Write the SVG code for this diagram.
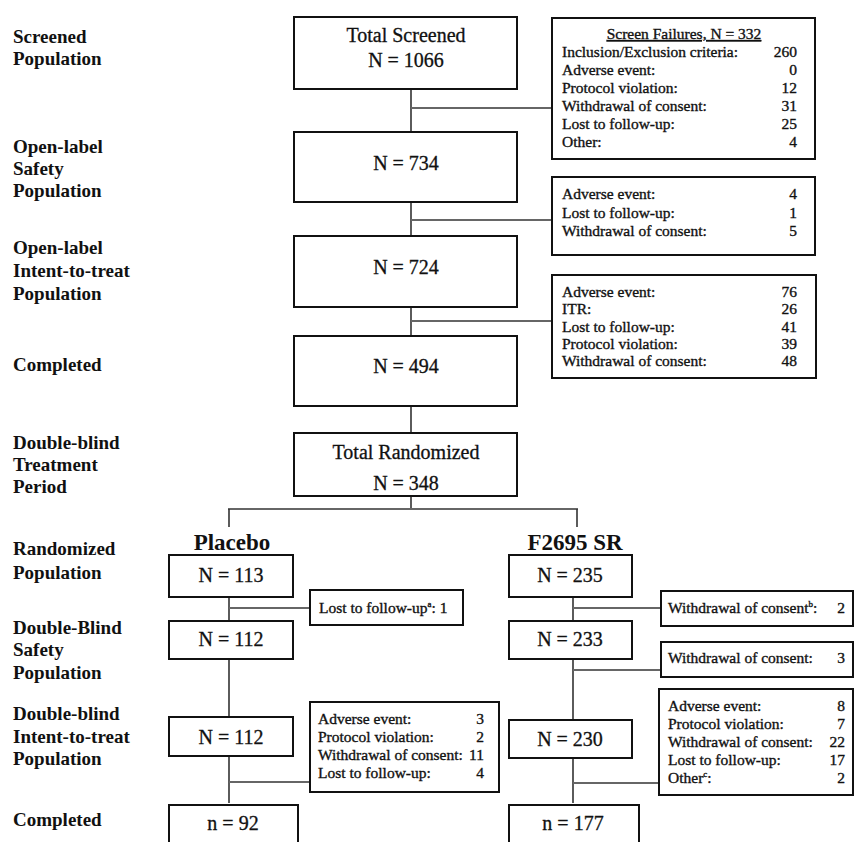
<svg xmlns="http://www.w3.org/2000/svg" width="854" height="842" viewBox="0 0 854 842">
<style>
.box{fill:#fff;stroke:#111;stroke-width:2}
.lbl{font-family:"Liberation Serif",serif;font-weight:bold;font-size:19px;fill:#111}
.mt{font-family:"Liberation Serif",serif;font-size:20px;fill:#111;stroke:#111;stroke-width:0.3;text-anchor:middle}
.st{font-family:"Liberation Serif",serif;font-size:15.5px;fill:#111;stroke:#111;stroke-width:0.35}
.num{text-anchor:end}
.arm{font-family:"Liberation Serif",serif;font-weight:bold;font-size:23px;fill:#111;text-anchor:middle}
.v{stroke:#333;stroke-width:1.6;fill:none}
.h{stroke:#666;stroke-width:2;fill:none}
.sup{font-size:9px}
</style>
<rect width="854" height="842" fill="#fff"/>

<g id="labels">
<text class="lbl" x="13" y="43">Screened</text>
<text class="lbl" x="13" y="65">Population</text>
<text class="lbl" x="13" y="153">Open-label</text>
<text class="lbl" x="13" y="175">Safety</text>
<text class="lbl" x="13" y="197">Population</text>
<text class="lbl" x="13" y="254">Open-label</text>
<text class="lbl" x="13" y="277">Intent-to-treat</text>
<text class="lbl" x="13" y="300">Population</text>
<text class="lbl" x="13" y="371">Completed</text>
<text class="lbl" x="13" y="449">Double-blind</text>
<text class="lbl" x="13" y="471">Treatment</text>
<text class="lbl" x="13" y="493">Period</text>
<text class="lbl" x="13" y="555">Randomized</text>
<text class="lbl" x="13" y="579">Population</text>
<text class="lbl" x="13" y="634">Double-Blind</text>
<text class="lbl" x="13" y="656">Safety</text>
<text class="lbl" x="13" y="679">Population</text>
<text class="lbl" x="13" y="720">Double-blind</text>
<text class="lbl" x="13" y="743">Intent-to-treat</text>
<text class="lbl" x="13" y="765">Population</text>
<text class="lbl" x="13" y="826">Completed</text>
</g>

<g id="connectors">
<line class="v" x1="411" y1="89" x2="411" y2="132"/>
<line class="v" x1="411" y1="202" x2="411" y2="236"/>
<line class="v" x1="411" y1="307" x2="411" y2="336"/>
<line class="v" x1="411" y1="406" x2="411" y2="433"/>
<line class="v" x1="411" y1="496" x2="411" y2="509"/>
<line class="h" x1="411" y1="108" x2="552" y2="108"/>
<line class="h" x1="411" y1="220" x2="552" y2="220"/>
<line class="h" x1="411" y1="321" x2="552" y2="321"/>
<line class="h" x1="228" y1="509" x2="578" y2="509"/>
<line class="v" x1="229" y1="509" x2="229" y2="527"/>
<line class="v" x1="577" y1="509" x2="577" y2="527"/>
<line class="v" x1="229" y1="597" x2="229" y2="621"/>
<line class="v" x1="229" y1="659" x2="229" y2="717"/>
<line class="v" x1="229" y1="756" x2="229" y2="803"/>
<line class="h" x1="229" y1="608" x2="310" y2="608"/>
<line class="h" x1="229" y1="782" x2="310" y2="782"/>
<line class="v" x1="573" y1="597" x2="573" y2="621"/>
<line class="v" x1="573" y1="659" x2="573" y2="720"/>
<line class="v" x1="573" y1="758" x2="573" y2="803"/>
<line class="h" x1="573" y1="608" x2="661" y2="608"/>
<line class="h" x1="573" y1="670" x2="661" y2="670"/>
<line class="h" x1="573" y1="783" x2="659" y2="783"/>
</g>

<g id="total-screened">
<rect class="box" x="294" y="17" width="223" height="72"/>
<text class="mt" x="406" y="42">Total Screened</text>
<text class="mt" x="406" y="67">N = 1066</text>
</g>
<g id="screen-failures">
<rect class="box" x="552" y="18" width="263" height="141"/>
<text class="st" x="684" y="39" text-anchor="middle" text-decoration="underline">Screen Failures, N = 332</text>
<text class="st" x="562" y="57">Inclusion/Exclusion criteria:</text>
<text class="st num" x="797" y="57">260</text>
<text class="st" x="562" y="75">Adverse event:</text>
<text class="st num" x="797" y="75">0</text>
<text class="st" x="562" y="93">Protocol violation:</text>
<text class="st num" x="797" y="93">12</text>
<text class="st" x="562" y="111">Withdrawal of consent:</text>
<text class="st num" x="797" y="111">31</text>
<text class="st" x="562" y="129">Lost to follow-up:</text>
<text class="st num" x="797" y="129">25</text>
<text class="st" x="562" y="147">Other:</text>
<text class="st num" x="797" y="147">4</text>
</g>
<g id="ol-safety">
<rect class="box" x="294" y="132" width="223" height="70"/>
<text class="mt" x="406" y="170">N = 734</text>
</g>
<g id="ol-safety-drop">
<rect class="box" x="552" y="177" width="263" height="78"/>
<text class="st" x="562" y="199">Adverse event:</text>
<text class="st num" x="797" y="199">4</text>
<text class="st" x="562" y="218">Lost to follow-up:</text>
<text class="st num" x="797" y="218">1</text>
<text class="st" x="562" y="236">Withdrawal of consent:</text>
<text class="st num" x="797" y="236">5</text>
</g>
<g id="ol-itt">
<rect class="box" x="294" y="236" width="223" height="71"/>
<text class="mt" x="406" y="274">N = 724</text>
</g>
<g id="ol-itt-drop">
<rect class="box" x="552" y="275" width="264" height="103"/>
<text class="st" x="562" y="297">Adverse event:</text>
<text class="st num" x="797" y="297">76</text>
<text class="st" x="562" y="314">ITR:</text>
<text class="st num" x="797" y="314">26</text>
<text class="st" x="562" y="332">Lost to follow-up:</text>
<text class="st num" x="797" y="332">41</text>
<text class="st" x="562" y="349">Protocol violation:</text>
<text class="st num" x="797" y="349">39</text>
<text class="st" x="562" y="366">Withdrawal of consent:</text>
<text class="st num" x="797" y="366">48</text>
</g>
<g id="ol-completed">
<rect class="box" x="294" y="336" width="223" height="70"/>
<text class="mt" x="406" y="373">N = 494</text>
</g>
<g id="total-randomized">
<rect class="box" x="294" y="433" width="223" height="63"/>
<text class="mt" x="406" y="459">Total Randomized</text>
<text class="mt" x="406" y="490">N = 348</text>
</g>

<g id="placebo">
<text class="arm" x="232" y="550">Placebo</text>
<rect class="box" x="169" y="555" width="124" height="42"/>
<text class="mt" x="231" y="582">N = 113</text>
</g>
<g id="placebo-lost">
<rect class="box" x="310" y="590" width="153" height="35"/>
<text class="st" x="319" y="613">Lost to follow-up<tspan class="sup" dy="-6">a</tspan><tspan dy="6">:  1</tspan></text>
</g>
<g id="placebo-safety">
<rect class="box" x="169" y="621" width="124" height="38"/>
<text class="mt" x="231" y="646">N = 112</text>
</g>
<g id="placebo-itt">
<rect class="box" x="169" y="717" width="124" height="39"/>
<text class="mt" x="231" y="744">N = 112</text>
</g>
<g id="placebo-drop">
<rect class="box" x="310" y="702" width="189" height="90"/>
<text class="st" x="318" y="724">Adverse event:</text>
<text class="st num" x="484" y="724">3</text>
<text class="st" x="318" y="742">Protocol violation:</text>
<text class="st num" x="484" y="742">2</text>
<text class="st" x="318" y="760">Withdrawal of consent:</text>
<text class="st num" x="484" y="760">11</text>
<text class="st" x="318" y="778">Lost to follow-up:</text>
<text class="st num" x="484" y="778">4</text>
</g>
<g id="placebo-completed">
<rect class="box" x="169" y="805" width="129" height="60"/>
<text class="mt" x="233" y="830">n = 92</text>
</g>

<g id="f2695">
<text class="arm" x="575" y="550">F2695 SR</text>
<rect class="box" x="509" y="555" width="123" height="42"/>
<text class="mt" x="570" y="582">N = 235</text>
</g>
<g id="f2695-wd1">
<rect class="box" x="661" y="591" width="192" height="35"/>
<text class="st" x="668" y="613">Withdrawal of consent<tspan class="sup" dy="-6">b</tspan><tspan dy="6">:</tspan></text>
<text class="st num" x="845" y="613">2</text>
</g>
<g id="f2695-safety">
<rect class="box" x="509" y="621" width="123" height="38"/>
<text class="mt" x="570" y="646">N = 233</text>
</g>
<g id="f2695-wd2">
<rect class="box" x="661" y="642" width="192" height="35"/>
<text class="st" x="668" y="663">Withdrawal of consent:</text>
<text class="st num" x="845" y="663">3</text>
</g>
<g id="f2695-itt">
<rect class="box" x="509" y="720" width="123" height="38"/>
<text class="mt" x="570" y="746">N = 230</text>
</g>
<g id="f2695-drop">
<rect class="box" x="659" y="689" width="194" height="106"/>
<text class="st" x="668" y="711">Adverse event:</text>
<text class="st num" x="845" y="711">8</text>
<text class="st" x="668" y="729">Protocol violation:</text>
<text class="st num" x="845" y="729">7</text>
<text class="st" x="668" y="747">Withdrawal of consent:</text>
<text class="st num" x="845" y="747">22</text>
<text class="st" x="668" y="765">Lost to follow-up:</text>
<text class="st num" x="845" y="765">17</text>
<text class="st" x="668" y="783">Other<tspan class="sup" dy="-6">c</tspan><tspan dy="6">:</tspan></text>
<text class="st num" x="845" y="783">2</text>
</g>
<g id="f2695-completed">
<rect class="box" x="509" y="805" width="130" height="60"/>
<text class="mt" x="573" y="830">n = 177</text>
</g>
</svg>
